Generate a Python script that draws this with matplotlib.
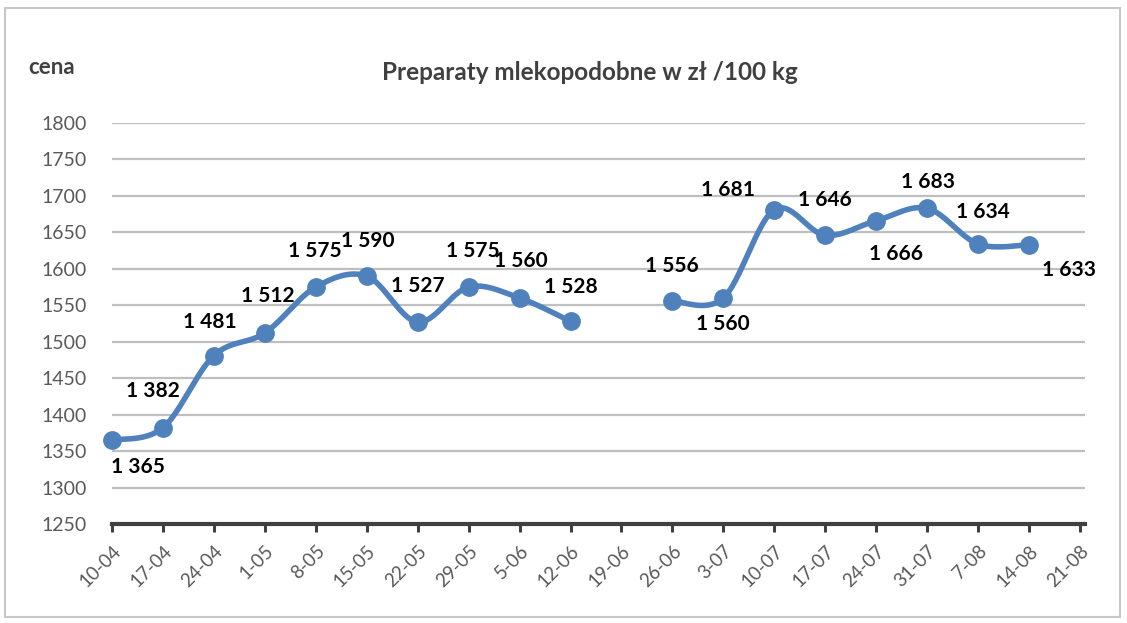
import numpy as np
import matplotlib
matplotlib.use("Agg")
import matplotlib.pyplot as plt
from matplotlib.patches import Rectangle

plt.rcParams['font.family'] = ['Lato', 'DejaVu Sans']

categories = ["10-04", "17-04", "24-04", "1-05", "8-05", "15-05", "22-05", "29-05",
              "5-06", "12-06", "19-06", "26-06", "3-07", "10-07", "17-07", "24-07",
              "31-07", "7-08", "14-08", "21-08"]
prices = [1365, 1382, 1481, 1512, 1575, 1590, 1527, 1575, 1560, 1528,
          None, 1556, 1560, 1681, 1646, 1666, 1683, 1634, 1633, None]
yticks = [1250, 1300, 1350, 1400, 1450, 1500, 1550, 1600, 1650, 1700, 1750, 1800]
title = "Preparaty mlekopodobne w zł /100 kg"
ylabel = "cena"

# label offsets in pixels (dx, dy) - style only
label_offsets = [(26, -27), (-10, 37), (-4, 34), (3, 37), (-1, 36), (1, 35), (0, 36),
                 (4, 36), (1, 37), (0, 34), None, (-1, 35), (-1, -26), (-46, 20),
                 (0, 35), (20, -33), (1, 26), (5, 32), (40, -25), None]

W, H = 1127, 623
fig = plt.figure(figsize=(W / 100, H / 100), dpi=100)
fig.patches.append(Rectangle((5 / W, 1 - 617 / H), 1115 / W, 609 / H, transform=fig.transFigure,
                             fill=False, edgecolor='#c8c8c8', linewidth=1.5))

ax = fig.add_axes([112 / W, 1 - 524 / H, (1085 - 112) / W, (524 - 123) / H])
ax.set_xlim(0, len(categories) - 1 + 5 / 50.9)
ax.set_ylim(1250, 1800)
ax.set_yticks(yticks)
ax.set_xticks(range(len(categories)))
ax.set_xticklabels(categories, rotation=45, ha='right', va='top', rotation_mode='anchor',
                   color='#595959', fontsize=13.5)
ax.tick_params(axis='y', length=0, labelsize=14, labelcolor='#595959', pad=18)
ax.tick_params(axis='x', length=6, width=2.2, color='#404040', pad=7)
for s in ['top', 'right', 'left']:
    ax.spines[s].set_visible(False)
ax.spines['bottom'].set_color('#404040')
ax.spines['bottom'].set_linewidth(3)
ax.grid(axis='y', color='#bfbfbf', linewidth=1.6)
ax.set_axisbelow(True)

# split into segments separated by gaps, draw smoothed line (Catmull-Rom / Excel style)
segments = []
cur = []
for i, v in enumerate(prices):
    if v is None:
        if cur:
            segments.append(cur)
        cur = []
    else:
        cur.append((i, v))
if cur:
    segments.append(cur)

line_color = '#4f81bd'
for seg in segments:
    pts = np.array(seg, dtype=float)
    n = len(pts)
    xs, ys = [], []
    for k in range(n - 1):
        p0 = pts[k - 1] if k > 0 else pts[k]
        p1 = pts[k]
        p2 = pts[k + 1]
        p3 = pts[k + 2] if k + 2 < n else pts[k + 1]
        c1 = p1 + (p2 - p0) / 6
        c2 = p2 - (p3 - p1) / 6
        t = np.linspace(0, 1, 30)[:, None]
        b = (1 - t) ** 3 * p1 + 3 * (1 - t) ** 2 * t * c1 + 3 * (1 - t) * t ** 2 * c2 + t ** 3 * p2
        xs.extend(b[:, 0]); ys.extend(b[:, 1])
    ax.plot(xs, ys, color=line_color, linewidth=4, solid_capstyle='round', zorder=3,
            clip_on=False)
    ax.plot(pts[:, 0], pts[:, 1], 'o', color=line_color, markersize=12.5, zorder=4,
            clip_on=False)

for i, v in enumerate(prices):
    if v is None:
        continue
    dx, dy = label_offsets[i]
    txt = f"{v // 1000} {v % 1000:03d}"
    ax.annotate(txt, (i, v), xytext=(dx * 0.72, dy * 0.72), textcoords='offset points',
                ha='center', va='center', fontsize=15, fontweight='bold', color='black',
                zorder=5)

fig.text(590 / W, 1 - 72 / H, title, ha='center', va='center', fontsize=17.5,
         fontweight='bold', color='#404040')
fig.text(28 / W, 1 - 68 / H, ylabel, ha='left', va='center', fontsize=16,
         fontweight='bold', color='#404040')

fig.savefig("out.png", dpi=100)
